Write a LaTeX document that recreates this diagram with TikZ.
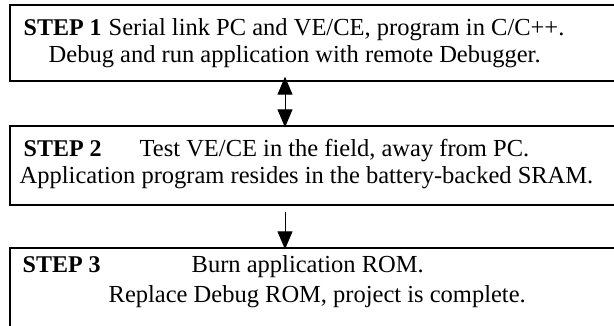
\documentclass[tikz,border=0pt]{standalone}
\usepackage{fontspec}
\setmainfont{Liberation Serif}
\usetikzlibrary{arrows.meta}

\begin{document}
\begin{tikzpicture}[>={Triangle[width=15pt,length=18pt]},x=1pt,y=1pt,
        line width=1.4pt,
        step box/.style={rectangle,draw,minimum width=640pt,inner sep=0pt},
        line text/.style={anchor=base west,inner sep=0pt,font=\fontsize{24.5}{27}\selectfont},
        step label/.style={line text,font=\fontsize{24}{27}\selectfont\bfseries}]
        \useasboundingbox (0,0) rectangle (614,325);
        \clip (0,0) rectangle (614,325);
        \node[step box, minimum height=76pt] (s1) at (330,282) {};
        \node[step box, minimum height=79pt] (s2) at (330,159.5) {};
        \node[step box, minimum height=100pt] (s3) at (330,27) {};
        % step 1
        \node[step label] (l1) at (23,290) {STEP 1};
        \node[line text] (t1a) at (108,290) {Serial link PC and VE/CE, program in C/C++.};
        \node[line text] (t1b) at (48,263) {Debug and run application with remote Debugger.};
        % step 2
        \node[step label] (l2) at (23,169) {STEP 2};
        \node[line text] (t2a) at (139,169) {Test VE/CE in the field, away from PC.};
        \node[line text] (t2b) at (19,142) {Application program resides in the battery-backed SRAM.};
        % step 3
        \node[step label] (l3) at (22,53) {STEP 3};
        \node[line text] (t3a) at (191,53) {Burn application ROM.};
        \node[line text] (t3b) at (108,23) {Replace Debug ROM, project is complete.};
        \draw[<->,line width=1pt] ([xshift=-45pt,yshift=5pt]s1.south) -- ([xshift=-45pt,yshift=-2pt]s2.north);
        \draw[->,line width=1pt] ([xshift=-45pt,yshift=-6pt]s2.south) -- ([xshift=-45pt,yshift=-2pt]s3.north);
\end{tikzpicture}
\end{document}
